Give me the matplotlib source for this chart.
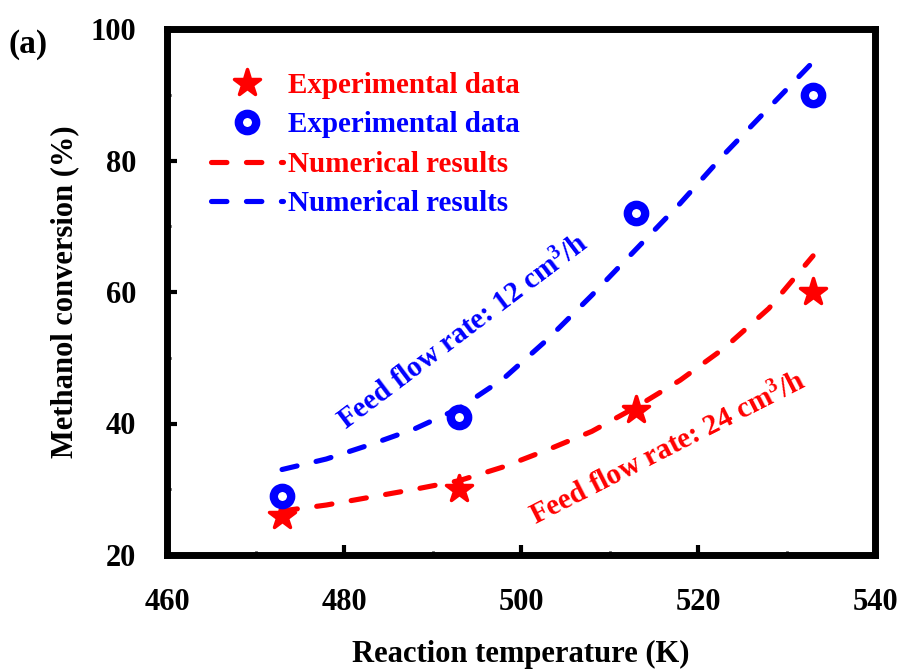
import matplotlib
matplotlib.use("Agg")
import matplotlib.pyplot as plt
from matplotlib.ticker import MultipleLocator
from matplotlib.markers import MarkerStyle

# ---- data ----
temp_exp = [473, 493, 513, 533]
conv_exp_24 = [26, 30, 42, 60]     # red stars (24 cm3/h)
conv_exp_12 = [29, 41, 72, 90]     # blue circles (12 cm3/h)

temp_num = [473, 478, 483, 488, 493, 498, 503, 508, 513, 518, 523, 528, 533]
conv_num_24 = [26.7, 27.6, 28.8, 30.0, 31.3, 33.4, 36.0, 38.8, 42.5, 46.6, 51.5, 57.5, 65.5]
conv_num_12 = [33.0, 34.6, 36.8, 39.2, 42.3, 46.8, 52.8, 59.5, 66.5, 73.5, 81.0, 88.0, 95.0]

legend_labels = ["Experimental data", "Experimental data",
                 "Numerical results", "Numerical results"]
x_label = "Reaction temperature (K)"
y_label = "Methanol conversion (%)"
note_12 = r"Feed flow rate: 12 cm$^{3}$/h"
note_24 = r"Feed flow rate: 24 cm$^{3}$/h"

# ---- style ----
plt.rcParams['font.family'] = ['Liberation Serif', 'DejaVu Serif']
plt.rcParams['font.weight'] = 'bold'
plt.rcParams['mathtext.fontset'] = 'custom'
plt.rcParams['mathtext.rm'] = 'Liberation Serif:bold'
plt.rcParams['mathtext.bf'] = 'Liberation Serif:bold'
plt.rcParams['mathtext.it'] = 'Liberation Serif:bold'

RED = '#ff0000'
BLUE = '#0000ff'

fig = plt.figure(figsize=(9.01, 6.70), dpi=100)
ax = fig.add_axes([167/901, 1-555/670, (875-167)/901, (555-29)/670])

dash = (0, (3.0, 3.8))
lw = 3.7

l_num24, = ax.plot(temp_num, conv_num_24, color=RED, lw=lw, ls=dash,
                   dash_capstyle='round', zorder=2)
l_num12, = ax.plot(temp_num, conv_num_12, color=BLUE, lw=lw, ls=dash,
                   dash_capstyle='round', zorder=2)
star = MarkerStyle('*', joinstyle='round')
l_exp24, = ax.plot(temp_exp, conv_exp_24, ls='none', marker=star, ms=20,
                   color=RED, mec=RED, mew=2.5, zorder=3)
l_exp12, = ax.plot(temp_exp, conv_exp_12, ls='none', marker='o', ms=12.5,
                   mfc='white', mec=BLUE, mew=6, zorder=3)

ax.set_xlim(460, 540)
ax.set_ylim(20, 100)
ax.xaxis.set_major_locator(MultipleLocator(20))
ax.xaxis.set_minor_locator(MultipleLocator(10))
ax.yaxis.set_major_locator(MultipleLocator(20))
ax.yaxis.set_minor_locator(MultipleLocator(10))

for s in ax.spines.values():
    s.set_linewidth(5)
ax.tick_params(which='major', direction='in', length=7, width=3,
               labelsize=22, top=False, right=False)
ax.tick_params(axis='x', which='major', pad=24)
ax.tick_params(axis='y', which='major', pad=22)
ax.tick_params(which='minor', direction='in', length=3, width=2,
               top=False, right=False)
for lab in ax.get_xticklabels() + ax.get_yticklabels():
    lab.set_fontweight('bold')

ax.set_xlabel(x_label, fontsize=22, fontweight='bold', labelpad=16)
ax.set_ylabel(y_label, fontsize=22, fontweight='bold', labelpad=8)

leg = ax.legend([l_exp24, l_exp12, l_num24, l_num12], legend_labels,
                loc='upper left', bbox_to_anchor=(0.045, 0.94),
                frameon=False, fontsize=21, handlelength=2.5,
                handletextpad=0.15, labelspacing=0.42, borderaxespad=0)
for txt, c in zip(leg.get_texts(), [RED, BLUE, RED, BLUE]):
    txt.set_color(c)
    txt.set_fontweight('bold')

ax.text(493.5, 53.8, note_12, color=BLUE, fontsize=21, fontweight='bold',
        rotation=37, ha='center', va='center', rotation_mode='anchor')
ax.text(516.6, 36.2, note_24, color=RED, fontsize=21, fontweight='bold',
        rotation=27, ha='center', va='center', rotation_mode='anchor')

fig.text(8/901, 1-45/670, "(a)", fontsize=24, fontweight='bold',
         ha='left', va='center')

fig.savefig("out.png", dpi=100)
